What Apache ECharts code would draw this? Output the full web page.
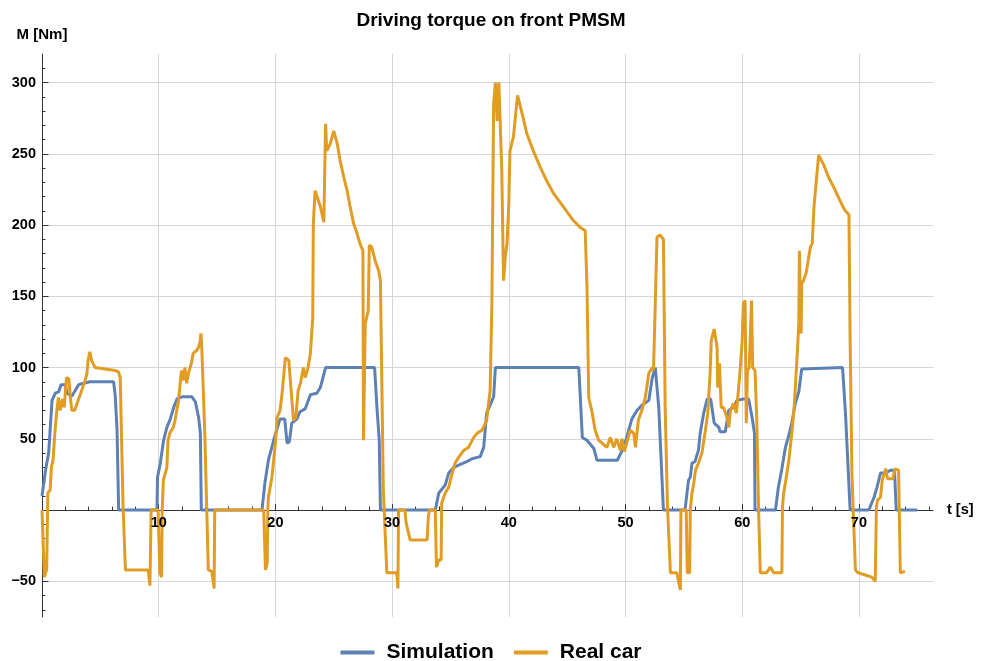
<!DOCTYPE html>
<html><head><meta charset="utf-8">
<script src="https://cdn.jsdelivr.net/npm/echarts@6/dist/echarts.min.js"></script>
<style>html,body{margin:0;padding:0;background:#fff}#c{width:982px;height:661px}</style>
</head><body><div id="c"></div>
<script>
// ---- data (t in s, torque in Nm) ----
const simT = [0,0.3,0.57,0.86,1.14,1.43,1.63,2.0,2.14,2.57,2.85,3.14,3.57,4.1,6.14,6.28,6.43,6.57,
  9.85,9.9,10.14,10.42,10.7,11.0,11.28,11.57,12.0,12.85,13.14,13.42,13.57,13.65,
  18.85,19.1,19.4,19.85,20.4,20.8,21.0,21.2,21.4,21.85,22.1,22.55,23.0,23.55,23.85,24.3,28.5,28.7,28.9,29.0,
  33.7,34.0,34.55,34.85,35.3,35.7,36.4,36.85,37.55,37.85,38.1,38.7,38.85,46.0,46.3,46.7,47.3,47.55,49.3,49.85,50.1,50.55,51.0,51.4,52.0,52.3,52.55,52.85,53.25,
  55.1,55.4,55.55,55.7,55.95,56.25,56.4,56.7,57.0,57.3,57.6,58.0,58.1,58.55,58.85,59.25,59.55,60.1,60.55,60.85,61.05,61.1,
  62.85,63.1,63.4,63.7,64.0,64.25,64.55,64.85,65.1,65.25,68.6,68.85,69.25,
  70.85,71.3,71.55,71.85,72.3,72.7,73.05,73.2,75.0];
const simV = [10,28,40,77,82,83,88,88,82,80,84,88,89,90,90,80,56,0,
  0,23,33,49,58,64,72,78,79.5,79.5,76,65,54,0,
  0,19,35,49,64,64,47,48,61,64,69,71,81,82,86,100,100,72,49,0,
  0,12,17.5,26,30,31.5,34,36,37.5,44,68,79.5,100,100,51,49,43,35,35,44,51,64,70,73.5,77,93,100,72,0,
  0,21,23,33,34,42,54,68,78,78,61,58,55,55,70,72,77,78,78,65,54,0,
  0,16,29,44,52.5,61,75,83,99,100,100,68,0,
  0,9,16,26,26,28,28,0,0];

const realT = [0,0.1,0.2,0.3,0.4,0.5,0.7,0.8,0.95,1.1,1.25,1.4,1.55,1.75,1.9,2.1,2.3,2.4,2.55,2.8,3.1,3.4,3.7,3.85,3.95,4.1,4.25,4.55,6.25,6.55,6.7,6.95,7.15,9.1,9.25,9.35,9.95,10.1,10.25,10.3,
  10.4,10.7,10.8,10.95,11.25,11.4,11.7,11.95,12.1,12.25,12.4,12.55,12.8,12.95,13.25,13.4,13.55,13.62,13.7,13.95,14.25,14.55,14.75,14.8,
  19.0,19.15,19.3,19.35,19.4,19.7,20.0,20.15,20.4,20.6,20.85,21.15,21.3,21.55,21.75,21.95,22.15,22.4,22.55,22.8,23.0,23.2,23.25,23.4,23.55,23.85,24.15,24.3,24.4,24.7,25.0,25.3,25.55,25.85,26.15,26.4,26.7,27.0,27.25,27.5,27.55,27.7,27.95,28.05,28.25,28.55,28.85,29.0,29.25,29.55,30.4,30.5,30.55,31.1,31.2,31.55,33.0,33.1,33.2,33.7,33.8,34.0,34.2,
  34.25,34.55,34.85,35.15,35.4,35.7,36.15,36.55,37.0,37.3,37.7,38.0,38.1,38.4,38.55,38.7,38.85,39.0,39.15,39.3,39.4,39.55,39.7,39.85,40.0,40.1,40.4,40.75,41.15,41.55,42.1,42.7,43.25,43.85,44.7,45.55,46.1,46.55,46.7,46.85,47.15,47.4,47.7,48.0,48.4,48.7,49.0,49.25,49.55,49.7,49.9,50.1,50.4,50.7,50.85,51.1,51.4,51.7,52.0,52.3,52.4,52.55,52.7,52.95,53.25,53.4,53.6,53.85,54.4,54.7,54.75,55.2,55.3,55.5,55.55,
  55.7,55.85,56.0,56.25,56.55,56.85,57.05,57.25,57.35,57.6,57.75,57.85,57.9,58.05,58.2,58.4,58.7,58.85,59.0,59.25,59.5,59.6,59.8,60.0,60.1,60.25,60.35,60.45,60.6,60.8,60.9,61.1,61.25,61.4,61.55,62.1,62.4,62.7,63.4,
  63.45,63.55,63.7,64.0,64.25,64.45,64.7,64.85,64.9,65.05,65.1,65.25,65.5,65.7,65.85,66.0,66.15,66.35,66.55,67.0,67.4,67.85,68.3,68.75,69.15,69.25,69.4,69.7,69.95,70.55,71.1,71.4,
  71.5,71.6,71.85,72.0,72.3,72.45,72.9,73.1,73.4,73.55,73.7,73.95];
const realV = [0,0,-47,-44,-42,12,14,30,35,54,68,79,70,78,72,93,92,82,70,70,77,84,91,96,105,111,105,100,98,97,93,2,-42,-42,-53,0,0,-44,-47,0,
  21,30,49,54,58,63,77,98,91,100,89,96,103,110,112,114,118,124,112,54,-42,-43,-55,0,
  0,-42,-37,0,9,23,47,65,70,84,107,105,89,63,65,84,89,100,93,100,110,135,201,224,224,213,202,271,252,257,266,257,245,234,224,213,201,194,187,182,49,131,140,186,184.5,175,168,161,14,-44,-44,-55,0,0,-9,-21,-21,-5,0,0,-40,-35,-35,
  5,12,16,26,33,37,42,44,51,54,56,61,63,84,145,285,300,273,300,299,238,161,178,187,215,252,262,291,278,264,252,240.5,231,222,212.5,203,198.5,196,156,79,68,56,49,47,44,51,44,50,42,50,41,47,56,54,44,63,70,79,96,100,98,98,191.5,193,190,72,2,-44,-44,-56,0,0,-44,-44,0,
  12,19,28,33,40,56,68,96,119,127,126,114,86,103,72,72,65,58,70,75,68,77,96,119,145,147,61,98,100,147,100,98,63,2,-44,-44,-40,-44,-44,
  2,12,19,35,54,72,107,131,182,124,159,161,167,177.5,184.5,187,212.5,231,249,242,233.5,226.5,218.5,211,207,119,26,-42,-44,-45.5,-47,-50,
  2,7,9,21,29,22,22,29,28,-44,-44,-43];

const xMajorTicks = [10,20,30,40,50,60,70];
const xMinorTicks = [2,4,6,8,12,14,16,18,22,24,26,28,32,34,36,38,42,44,46,48,52,54,56,58,62,64,66,68,72,74,76];
const yMajorTicks = [-50,50,100,150,200,250,300];
const yMinorTicks = [-70,-60,-40,-30,-20,-10,10,20,30,40,60,70,80,90,110,120,130,140,160,170,180,190,210,220,230,240,260,270,280,290,310];

const FONT = 'Liberation Sans, Arial, sans-serif';
const AX = '#333';
const X_MIN = 0, X_MAX = 76.35, Y_MIN = -75, Y_MAX = 320;
const GRID = {left: 42, right: 49, top: 54, bottom: 44};
const CH = 661;
// distance from plot bottom to the y = 0 line, via the linear y scale of the grid
const plotH = CH - GRID.top - GRID.bottom;
const zeroOffset = -((0 - Y_MIN) / (Y_MAX - Y_MIN)) * plotH;

const zip = (a, b) => a.map((v, i) => [v, b[i]]);
const xBase = {type: 'value', min: X_MIN, max: X_MAX, position: 'bottom', offset: zeroOffset};
const labelFont = {fontFamily: FONT, fontWeight: 'bold', fontSize: 14.5, color: '#000'};

const chart = echarts.init(document.getElementById('c'), null, {renderer: 'canvas'});
chart.setOption({
  animation: false,
  backgroundColor: '#fff',
  title: {
    text: 'Driving torque on front PMSM', left: 'center', top: 6,
    textStyle: {fontFamily: FONT, fontWeight: 'bold', fontSize: 19, color: '#000'}
  },
  legend: {
    data: ['Simulation', 'Real car'], left: 'center', top: 637,
    icon: 'rect', itemWidth: 34, itemHeight: 4, itemGap: 20,
    textStyle: {fontFamily: FONT, fontWeight: 'bold', fontSize: 21, color: '#000', padding: [0, 0, 0, 7]}
  },
  grid: Object.assign({containLabel: false}, GRID),
  xAxis: [Object.assign({}, xBase, {
    name: 't [s]', nameLocation: 'end', nameGap: 14,
    nameTextStyle: Object.assign({verticalAlign: 'middle'}, labelFont),
    axisLine: {show: true, onZero: false, lineStyle: {color: AX, width: 1}},
    axisTick: {show: true, inside: true, length: 6, customValues: xMajorTicks, lineStyle: {color: AX}},
    axisLabel: {show: false, customValues: xMajorTicks},
    splitLine: {show: true, lineStyle: {color: '#d6d6d6', width: 1}}
  }), Object.assign({}, xBase, {
    axisLine: {show: false, onZero: false},
    axisTick: {show: true, inside: true, length: 3.5, customValues: xMinorTicks, lineStyle: {color: AX}},
    axisLabel: {show: false},
    splitLine: {show: false}
  }), Object.assign({}, xBase, {
    z: 10,
    axisLine: {show: false, onZero: false},
    axisTick: {show: false, customValues: xMajorTicks},
    axisLabel: Object.assign({show: true, customValues: xMajorTicks, margin: 5}, labelFont),
    splitLine: {show: false}
  })],
  yAxis: [{
    type: 'value', min: Y_MIN, max: Y_MAX, position: 'left',
    name: 'M [Nm]', nameLocation: 'end', nameGap: 12,
    nameTextStyle: {fontFamily: FONT, fontWeight: 'bold', fontSize: 15, color: '#000', align: 'center'},
    axisLine: {show: true, onZero: false, lineStyle: {color: AX, width: 1}},
    axisTick: {show: true, inside: true, length: 6.5, customValues: yMajorTicks, lineStyle: {color: AX}},
    axisLabel: Object.assign({show: true, customValues: yMajorTicks, margin: 6,
      formatter: v => String(v).replace('-', '\u2212')}, labelFont),
    splitLine: {show: true, lineStyle: {color: '#d6d6d6', width: 1}}
  }, {
    type: 'value', min: Y_MIN, max: Y_MAX, position: 'left',
    axisLine: {show: false, onZero: false},
    axisTick: {show: true, inside: true, length: 3.5, customValues: yMinorTicks, lineStyle: {color: AX}},
    axisLabel: {show: false},
    splitLine: {show: false}
  }],
  series: [{
    name: 'Simulation', type: 'line', xAxisIndex: 0, yAxisIndex: 0,
    data: zip(simT, simV), showSymbol: false, symbol: 'none',
    lineStyle: {color: '#5E81B5', width: 3}, itemStyle: {color: '#5E81B5'}, z: 3
  }, {
    name: 'Real car', type: 'line', xAxisIndex: 0, yAxisIndex: 0,
    data: zip(realT, realV), showSymbol: false, symbol: 'none',
    lineStyle: {color: '#E19C24', width: 3}, itemStyle: {color: '#E19C24'}, z: 4
  }]
});
</script></body></html>
